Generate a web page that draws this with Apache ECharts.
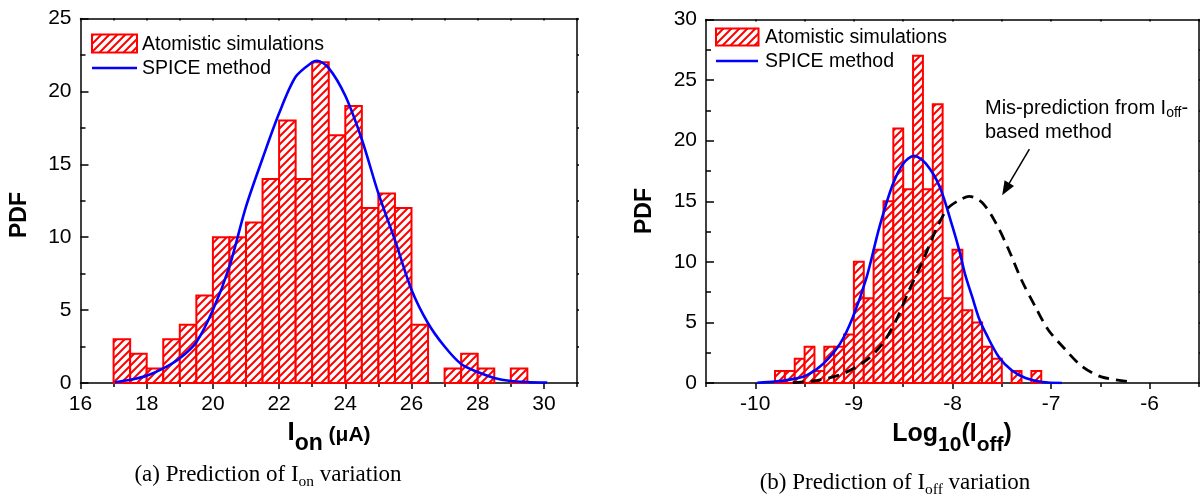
<!DOCTYPE html>
<html><head><meta charset="utf-8">
<script src="https://cdn.jsdelivr.net/npm/echarts@6/dist/echarts.min.js"></script>
<style>html,body{margin:0;padding:0;background:#fff}#c{width:1200px;height:496px}</style>
</head><body><div id="c"></div>
<script>
// ---------- DATA (a) I_on ----------
const ionBinLeft = [17,17.5,18,18.5,19,19.5,20,20.5,21,21.5,22,22.5,23,23.5,24,24.5,25,25.5,26,27,27.5,28,29];
const ionCounts  = [3,2,1,3,4,6,10,10,11,14,18,14,22,17,19,12,13,12,4,1,2,1,1];
const ionBinWidth = 0.5;
const ionSpiceX = [17.04,17.5,18.0,18.5,19.0,19.5,20.0,20.5,21.0,21.5,22.0,22.5,23.0,23.15,23.5,24.0,24.5,25.0,25.5,26.0,26.5,27.0,27.5,28.0,28.5,29.0,29.5,30.1];
const ionSpiceY = [0.05,0.22,0.5,1.0,1.7,2.8,5.0,8.0,12.1,15.4,18.5,21.0,22.0,22.1,21.6,19.7,16.7,13.0,9.8,6.4,4.1,2.5,1.3,0.75,0.35,0.14,0.07,0.03];
const ionTickLabels = [16,18,20,22,24,26,28,30];
const ionMajorTicks = [16,18,20,22,24,26,28,30];
const ionMinorTicks = [17,19,21,23,25,27,29,31];
const pdfTicksA = [0,5,10,15,20,25];
const pdfMinorA = [2.5,7.5,12.5,17.5,22.5];

// ---------- DATA (b) I_off ----------
const ioffBinLeft = [-9.8,-9.7,-9.6,-9.5,-9.4,-9.3,-9.2,-9.1,-9.0,-8.9,-8.8,-8.7,-8.6,-8.5,-8.4,-8.3,-8.2,-8.1,-8.0,-7.9,-7.8,-7.7,-7.6,-7.4,-7.2];
const ioffCounts  = [1,1,2,3,1,3,3,4,10,7,11,15,21,16,27,16,23,7,11,6,5,3,2,1,1];
const ioffBinWidth = 0.1;
const ioffSpiceX = [-9.98,-9.8,-9.65,-9.48,-9.31,-9.14,-9.01,-8.87,-8.74,-8.61,-8.5,-8.39,-8.27,-8.13,-8.0,-7.93,-7.87,-7.8,-7.73,-7.66,-7.53,-7.4,-7.26,-7.09,-6.89];
const ioffSpiceY = [0.02,0.12,0.28,0.63,1.6,3.25,5.45,8.76,12.9,16.3,18.1,18.76,18.1,16.2,12.9,10.9,8.9,7.1,5.3,4.07,2.14,1.05,0.41,0.08,0.0];
const ioffMisX = [-9.62,-9.38,-9.11,-8.87,-8.71,-8.57,-8.44,-8.3,-8.17,-8.05,-7.93,-7.83,-7.7,-7.56,-7.43,-7.3,-7.16,-7.03,-6.86,-6.69,-6.49,-6.19];
const ioffMisY = [0.03,0.2,0.77,1.9,3.25,5.2,7.66,10.1,12.6,14.4,15.1,15.4,14.9,13.2,11.0,8.5,6.3,4.4,2.8,1.4,0.5,0.1];
const ioffTickLabels = [-10,-9,-8,-7,-6];
const ioffMajorTicks = [-10,-9,-8,-7,-6];
const ioffMinorTicks = [-10.5,-9.5,-8.5,-7.5,-6.5,-5.5];
const pdfTicksB = [0,5,10,15,20,25,30];
const pdfMinorB = [2.5,7.5,12.5,17.5,22.5,27.5];
const arrowTail = [-7.22, 19.3];
const arrowHead = [-7.46, 16.0];

// ---------- helpers ----------
const LS = '"Liberation Sans", Arial, sans-serif';
const SERIF = '"Liberation Serif", "Times New Roman", serif';
function makeHatch() {
  const s = 8, c = document.createElement('canvas');
  c.width = s; c.height = s;
  const g = c.getContext('2d');
  g.fillStyle = '#fff'; g.fillRect(0, 0, s, s);
  g.strokeStyle = '#ff0000'; g.lineWidth = 2;
  g.beginPath();
  g.moveTo(-2, 2); g.lineTo(2, -2);
  g.moveTo(0, s); g.lineTo(s, 0);
  g.moveTo(s - 2, s + 2); g.lineTo(s + 2, s - 2);
  g.stroke();
  return { image: c, repeat: 'repeat' };
}
const hatch = makeHatch();

const mctx = document.createElement('canvas').getContext('2d');
function fontStr(p) { return (p.w || 'normal') + ' ' + p.s + 'px ' + (p.f || LS); }
function run(x0, baseline, pieces, align) {
  const widths = pieces.map(p => { mctx.font = fontStr(p); return mctx.measureText(p.t).width; });
  const total = widths.reduce((a, b) => a + b, 0);
  let x = align === 'center' ? x0 - total / 2 : x0;
  return pieces.map((p, i) => {
    const el = { type: 'text', x: x, y: baseline + (p.dy || 0) - 0.345 * p.s, z: 10,
      style: { text: p.t, font: fontStr(p), fill: '#000', textAlign: 'left', textVerticalAlign: 'middle' } };
    x += widths[i];
    return el;
  });
}

function histSeries(binLeft, counts, width, xi, yi) {
  return {
    type: 'custom', xAxisIndex: xi, yAxisIndex: yi, z: 2, silent: true,
    data: binLeft.map((l, i) => [l, l + width, counts[i]]),
    encode: { x: [0, 1], y: 2 },
    renderItem: (params, api) => {
      const a = api.coord([api.value(0), api.value(2)]);
      const b = api.coord([api.value(1), 0]);
      return { type: 'rect', shape: { x: a[0], y: a[1], width: b[0] - a[0], height: b[1] - a[1] },
        style: { fill: hatch, stroke: '#ff0000', lineWidth: 2 } };
    }
  };
}

const black = { color: '#000', width: 1.5 };
function xAxes(grid, min, max, labels, major, minor) {
  return [
    { gridIndex: grid, type: 'value', min, max, position: 'bottom', offset: 0,
      axisLine: { show: true, onZero: false, lineStyle: black },
      axisTick: { show: true, customValues: major, length: 6, lineStyle: black },
      axisLabel: { show: true, customValues: labels, fontSize: 21, fontFamily: LS, color: '#000', margin: 11 },
      splitLine: { show: false } },
    { gridIndex: grid, type: 'value', min, max, position: 'bottom', offset: 0,
      axisLine: { show: false, onZero: false },
      axisTick: { show: true, customValues: minor, length: 4, lineStyle: black },
      axisLabel: { show: false }, splitLine: { show: false } },
    { gridIndex: grid, type: 'value', min, max, position: 'top', offset: 0,
      axisLine: { show: true, onZero: false, lineStyle: black },
      axisTick: { show: true, inside: true, customValues: major.concat(minor), length: 2, lineStyle: black },
      axisLabel: { show: false }, splitLine: { show: false } }
  ];
}
function yAxes(grid, min, max, major, minor) {
  return [
    { gridIndex: grid, type: 'value', min, max, position: 'left', offset: 0,
      axisLine: { show: true, onZero: false, lineStyle: black },
      axisTick: { show: true, inside: true, customValues: major, length: 8, lineStyle: black },
      axisLabel: { show: true, customValues: major, fontSize: 21, fontFamily: LS, color: '#000', margin: 9 },
      splitLine: { show: false } },
    { gridIndex: grid, type: 'value', min, max, position: 'left', offset: 0,
      axisLine: { show: false, onZero: false },
      axisTick: { show: true, inside: true, customValues: minor, length: 5, lineStyle: black },
      axisLabel: { show: false }, splitLine: { show: false } },
    { gridIndex: grid, type: 'value', min, max, position: 'right', offset: 0,
      axisLine: { show: true, onZero: false, lineStyle: black },
      axisTick: { show: true, customValues: major.concat(minor), length: 2, lineStyle: black },
      axisLabel: { show: false }, splitLine: { show: false } }
  ];
}

const graphics = [].concat(
  // legend (a)
  [{ type: 'rect', shape: { x: 92, y: 34.5, width: 45, height: 18 }, style: { fill: hatch, stroke: '#ff0000', lineWidth: 2 }, z: 10 },
   { type: 'line', shape: { x1: 92, y1: 68, x2: 137, y2: 68 }, style: { stroke: '#0000ff', lineWidth: 2.5 }, z: 10 }],
  run(142, 51, [{ t: 'Atomistic simulations', s: 19.5 }], 'left'),
  run(142, 75.5, [{ t: 'SPICE method', s: 19.5 }], 'left'),
  // legend (b)
  [{ type: 'rect', shape: { x: 716, y: 28.5, width: 42.5, height: 17 }, style: { fill: hatch, stroke: '#ff0000', lineWidth: 2 }, z: 10 },
   { type: 'line', shape: { x1: 716, y1: 61, x2: 758, y2: 61 }, style: { stroke: '#0000ff', lineWidth: 2.5 }, z: 10 }],
  run(765, 44, [{ t: 'Atomistic simulations', s: 19.5 }], 'left'),
  run(765, 68, [{ t: 'SPICE method', s: 19.5 }], 'left'),
  // annotation
  run(985, 115.5, [{ t: 'Mis-prediction from I', s: 20 }, { t: 'off', s: 14, dy: 2 }, { t: '-', s: 20 }], 'left'),
  run(985, 139, [{ t: 'based method', s: 20 }], 'left'),
  // axis titles
  run(329, 442, [{ t: 'I', s: 26, w: 'bold' }, { t: 'on', s: 23, w: 'bold', dy: 10 }, { t: ' (\u03bcA)', s: 21, w: 'bold' }], 'center'),
  run(952, 443, [{ t: 'Log', s: 25, w: 'bold' }, { t: '10', s: 21, w: 'bold', dy: 9 }, { t: '(I', s: 25, w: 'bold' }, { t: 'off', s: 21, w: 'bold', dy: 9 }, { t: ')', s: 25, w: 'bold' }], 'center'),
  [{ type: 'text', x: 20, y: 215, rotation: Math.PI / 2, z: 10,
     style: { text: 'PDF', font: 'bold 23px ' + LS, fill: '#000', textAlign: 'center', textVerticalAlign: 'middle' } },
   { type: 'text', x: 645, y: 211, rotation: Math.PI / 2, z: 10,
     style: { text: 'PDF', font: 'bold 23px ' + LS, fill: '#000', textAlign: 'center', textVerticalAlign: 'middle' } }],
  // captions
  run(268, 483, [{ t: '(a) Prediction of I', s: 23, f: SERIF }, { t: 'on', s: 15.5, f: SERIF, dy: 4 }, { t: ' variation', s: 23, f: SERIF }], 'center'),
  run(895, 491, [{ t: '(b) Prediction of I', s: 23, f: SERIF }, { t: 'off', s: 15.5, f: SERIF, dy: 4 }, { t: ' variation', s: 23, f: SERIF }], 'center')
);

const chart = echarts.init(document.getElementById('c'), null, { renderer: 'canvas' });
chart.setOption({
  animation: false,
  backgroundColor: '#fff',
  grid: [
    { left: 80.5, top: 18.5, width: 496.5, height: 364.5, outerBoundsMode: 'none' },
    { left: 706, top: 19.5, width: 493, height: 363.5, outerBoundsMode: 'none' }
  ],
  xAxis: xAxes(0, 16, 31, ionTickLabels, ionMajorTicks, ionMinorTicks)
    .concat(xAxes(1, -10.5, -5.5, ioffTickLabels, ioffMajorTicks, ioffMinorTicks)),
  yAxis: yAxes(0, 0, 25, pdfTicksA, pdfMinorA).concat(yAxes(1, 0, 30, pdfTicksB, pdfMinorB)),
  series: [
    histSeries(ionBinLeft, ionCounts, ionBinWidth, 0, 0),
    { type: 'line', xAxisIndex: 0, yAxisIndex: 0, z: 3, silent: true, showSymbol: false, smooth: 0.3,
      data: ionSpiceX.map((x, i) => [x, ionSpiceY[i]]),
      lineStyle: { color: '#0000ff', width: 2.6 } },
    histSeries(ioffBinLeft, ioffCounts, ioffBinWidth, 3, 3),
    { type: 'line', xAxisIndex: 3, yAxisIndex: 3, z: 3, silent: true, showSymbol: false, smooth: 0.3,
      data: ioffSpiceX.map((x, i) => [x, ioffSpiceY[i]]),
      lineStyle: { color: '#0000ff', width: 2.6 } },
    { type: 'line', xAxisIndex: 3, yAxisIndex: 3, z: 4, silent: true, showSymbol: false, smooth: 0.3,
      data: ioffMisX.map((x, i) => [x, ioffMisY[i]]),
      lineStyle: { color: '#000', width: 2.8, type: [11, 7] },
      markLine: { silent: true, symbol: ['none', 'triangle'], symbolSize: [11, 14],
        label: { show: false }, lineStyle: { color: '#000', width: 1.5, type: 'solid' },
        data: [[{ coord: arrowTail }, { coord: arrowHead }]] } }
  ],
  graphic: graphics
});
</script>
</body></html>
